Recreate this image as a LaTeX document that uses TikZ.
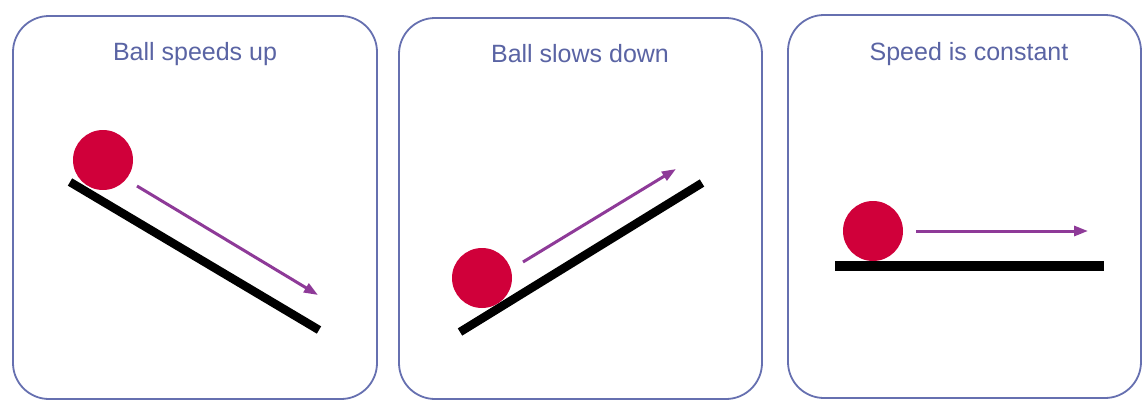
\documentclass[tikz,border=0pt]{standalone}
\usepackage{fontspec}
\setmainfont{Liberation Sans}
\usetikzlibrary{arrows.meta}
\definecolor{framec}{HTML}{6670B0}
\definecolor{titlec}{HTML}{5A64A4}
\definecolor{ballc}{HTML}{D0003A}
\definecolor{arrc}{HTML}{8E3A98}
\tikzset{
  panel/.style={draw=framec, line width=1.8pt, rounded corners=36pt, fill=white},
  ttl/.style={text=titlec, font=\fontsize{25}{28}\selectfont, anchor=center, inner sep=0pt},
  ball/.style={circle, fill=ballc, minimum size=60pt, inner sep=0pt, draw=none},
  ramp/.style={line width=8.5pt, black},
  vel/.style={draw=arrc, line width=3pt, -{Triangle[length=14pt,width=10pt]}},
}
\begin{document}
\begin{tikzpicture}[x=1pt,y=-1pt]
\useasboundingbox (0,0) rectangle (1144,402);
\fill[white] (0,0) rectangle (1144,402);
% panels
\draw[panel] (13,16) rectangle (377,399);
\draw[panel] (399,18) rectangle (762,399);
\draw[panel] (788,15) rectangle (1141,398);
% titles
\node[ttl] (t1) at (195,54) {Ball speeds up};
\node[ttl] (t2) at (580,54) {Ball slows down};
\node[ttl] (t3) at (969,54) {Speed is constant};
% panel 1
\coordinate (r1a) at (70,182);
\coordinate (r1b) at (319,330);
\draw[ramp] (r1a) -- (r1b);
\node[ball] (b1) at (103,160) {};
\coordinate (v1a) at (137,186);
\coordinate (v1b) at (318,295);
\draw[vel] (v1a) -- (v1b);
% panel 2
\coordinate (r2a) at (460,332);
\coordinate (r2b) at (702,183);
\draw[ramp] (r2a) -- (r2b);
\node[ball] (b2) at (482,278) {};
\coordinate (v2a) at (523,262);
\coordinate (v2b) at (676,169);
\draw[vel] (v2a) -- (v2b);
% panel 3
\coordinate (r3a) at (835,266);
\coordinate (r3b) at (1104,266);
\draw[ramp, line width=9.5pt] (r3a) -- (r3b);
\node[ball] (b3) at (873,231) {};
\coordinate (v3a) at (916,231);
\coordinate (v3b) at (1088,231);
\draw[vel] (v3a) -- (v3b);
\end{tikzpicture}
\end{document}
